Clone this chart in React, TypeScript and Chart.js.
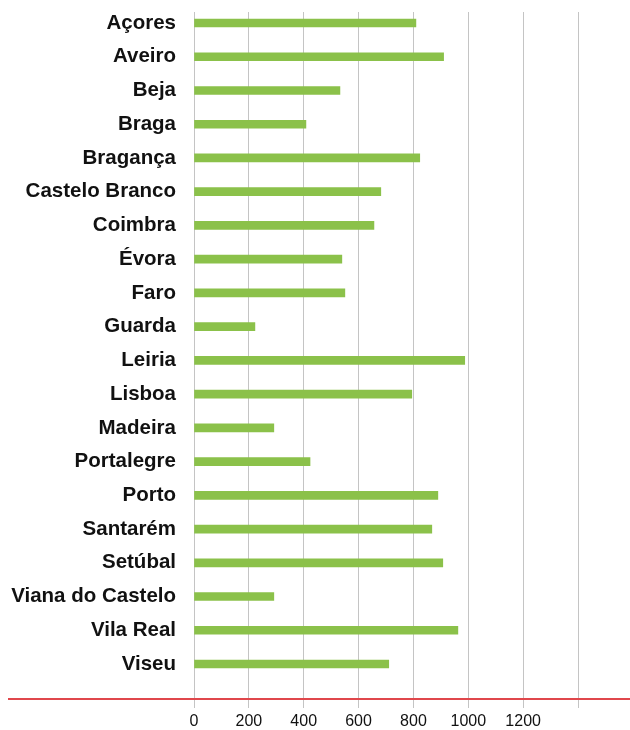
import React, { useEffect, useRef } from "react";
import { Chart, registerables } from "chart.js";

Chart.register(...registerables);

const categories = [
  "Açores", "Aveiro", "Beja", "Braga", "Bragança", "Castelo Branco", "Coimbra",
  "Évora", "Faro", "Guarda", "Leiria", "Lisboa", "Madeira", "Portalegre", "Porto",
  "Santarém", "Setúbal", "Viana do Castelo", "Vila Real", "Viseu",
];
const values = [
  809, 910, 532, 408, 823, 681, 656, 539, 550, 222, 987, 794, 291, 423, 889,
  867, 907, 291, 962, 710,
];
const xTicks = [0, 200, 400, 600, 800, 1000, 1200];
const xMax = 1400;

const redLine = {
  id: "redLine",
  afterDraw(chart: any) {
    const ctx = chart.ctx;
    ctx.save();
    ctx.strokeStyle = "#e0474c";
    ctx.lineWidth = 2;
    ctx.beginPath();
    ctx.moveTo(8, 699);
    ctx.lineTo(630, 699);
    ctx.stroke();
    ctx.restore();
  },
};

export default function App() {
  const ref = useRef<HTMLCanvasElement>(null);
  useEffect(() => {
    if (!ref.current) return;
    const chart = new Chart(ref.current, {
      type: "bar",
      data: {
        datasets: [
          {
            data: values.map((v, i) => ({ x: v, y: i })),
            backgroundColor: "#8bc14a",
            barThickness: 8,
          },
        ],
      },
      plugins: [redLine],
      options: {
        indexAxis: "y",
        animation: false,
        responsive: false,
        layout: { padding: { top: 12, right: 52, left: 0, bottom: 0 } },
        plugins: { legend: { display: false }, tooltip: { enabled: false } },
        scales: {
          x: {
            type: "linear",
            bounds: "data",
            offset: false,
            min: 0,
            max: xMax,
            border: { display: false },
            grid: { color: "#c4c4c4", lineWidth: 1, tickLength: 28, offset: false },
            afterBuildTicks: (s: any) => {
              s.ticks = [...xTicks, xMax].map((v) => ({ value: v }));
            },
            afterFit: (s: any) => {
              s.height = 50;
              s.paddingLeft = 0;
              s.paddingRight = 0;
            },
            ticks: {
              padding: 4,
              color: "#111",
              font: { family: '"Liberation Sans", Arial, sans-serif', size: 16 },
              callback: (v: any) => (xTicks.includes(v) ? String(v) : ""),
            },
          },
          y: {
            type: "linear",
            bounds: "data",
            offset: false,
            reverse: true,
            min: -0.326,
            max: 19.474,
            border: { display: false },
            grid: { display: false, drawTicks: false, offset: false },
            afterBuildTicks: (s: any) => {
              s.ticks = categories.map((_, i) => ({ value: i }));
            },
            afterFit: (s: any) => {
              s.width = 194;
              s.paddingTop = 0;
              s.paddingBottom = 0;
            },
            ticks: {
              padding: 18,
              color: "#111",
              font: { family: '"Liberation Sans", Arial, sans-serif', size: 20.5, weight: "bold" },
              callback: (v: any) => categories[v] ?? "",
            },
          },
        },
      },
    });
    return () => chart.destroy();
  }, []);
  return (
    <div style={{ position: "fixed", left: 0, top: 0, width: 630, height: 730, background: "#fff" }}>
      <canvas ref={ref} width={630} height={730} style={{ display: "block" }} />
    </div>
  );
}
